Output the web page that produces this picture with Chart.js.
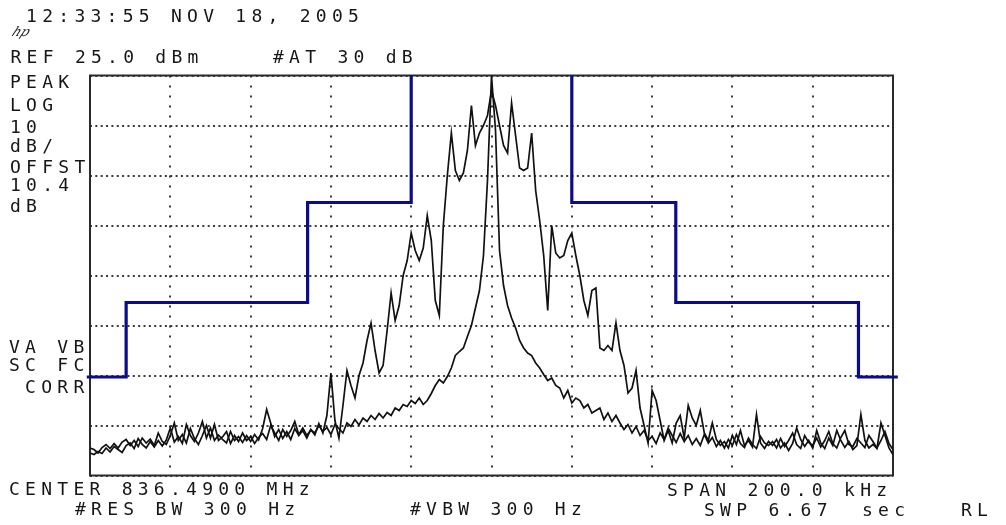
<!DOCTYPE html>
<html>
<head>
<meta charset="utf-8">
<script src="https://cdn.jsdelivr.net/npm/chart.js@4.4.1/dist/chart.umd.min.js"></script>
<style>
  html, body { margin: 0; padding: 0; background: #fff; }
  .screen { position: relative; width: 1006px; height: 525px; overflow: hidden; background: #fff; }
  .screen canvas { position: absolute; left: 0; top: 0; }
  .lbl {
    position: absolute;
    font-family: "DejaVu Sans Mono", monospace;
    font-size: 18px;
    line-height: 18px;
    letter-spacing: 5.26px;
    color: #161616;
    white-space: pre;
  }
  .logo {
    position: absolute;
    left: 13px;
    top: 25px;
    font-family: "DejaVu Serif", serif;
    font-style: italic;
    font-size: 13px;
    line-height: 13px;
    color: #222;
    transform: skewX(-25deg);
  }
</style>
</head>
<body>
<div class="screen">
  <canvas id="sa" width="1006" height="525"></canvas>
  <div class="lbl" style="left:10px;top:6.5px"> 12:33:55 NOV 18, 2005</div>
  <div class="logo">hp</div>
  <div class="lbl" style="left:10.5px;top:48px">REF 25.0 dBm</div>
  <div class="lbl" style="left:273px;top:48px">#AT 30 dB</div>
  <div class="lbl" style="left:10px;top:73px">PEAK</div>
  <div class="lbl" style="left:10px;top:96px">LOG</div>
  <div class="lbl" style="left:10px;top:118px">10</div>
  <div class="lbl" style="left:10px;top:137px">dB/</div>
  <div class="lbl" style="left:10px;top:158px">OFFST</div>
  <div class="lbl" style="left:10px;top:176px">10.4</div>
  <div class="lbl" style="left:10px;top:197px">dB</div>
  <div class="lbl" style="left:9px;top:338px">VA VB</div>
  <div class="lbl" style="left:9px;top:356px">SC FC</div>
  <div class="lbl" style="left:9px;top:378px"> CORR</div>
  <div class="lbl" style="left:9px;top:480px">CENTER 836.4900 MHz</div>
  <div class="lbl" style="left:75px;top:500px">#RES BW 300 Hz</div>
  <div class="lbl" style="left:410px;top:500px">#VBW 300 Hz</div>
  <div class="lbl" style="left:667px;top:481px">SPAN 200.0 kHz</div>
  <div class="lbl" style="left:704px;top:501px">SWP 6.67</div>
  <div class="lbl" style="left:862px;top:501px">sec</div>
  <div class="lbl" style="left:961px;top:501px">RL</div>
</div>
<script>
// offset from 836.4900 MHz, kHz; level in dBm (REF 25 dBm, 10 dB/div)
const startKHz = -100;
const stepKHz = 1;
const xTicks = [-100, -80, -60, -40, -20, 0, 20, 40, 60, 80, 100];
const yTicks = [-55, -45, -35, -25, -15, -5, 5, 15, 25];

// wide modulated trace, one reading per kHz
const wideTrace = [
  -50.5, -50.8, -50.2, -50.6, -49.5, -50.3, -49.2, -49.8, -50.4, -49.0,
  -48.5, -49.6, -47.6, -48.8, -49.5, -48.2, -49.3, -48.0, -49.1, -47.9,
  -45.5, -48.3, -47.2, -48.6, -44.8, -47.0, -48.2, -46.5, -44.2, -47.5,
  -45.5, -48.0, -46.9, -47.8, -48.5, -46.2, -48.0, -47.2, -48.4, -47.0,
  -48.2, -46.8, -47.9, -45.6, -41.8, -44.5, -47.2, -45.8, -47.6, -46.2,
  -47.8, -45.6, -47.0, -46.0, -47.5, -45.8, -46.9, -44.6, -46.5, -43.0,
  -34.5, -44.0, -47.5, -41.0, -34.0, -37.0, -39.5, -35.0, -32.5, -28.0,
  -24.5, -30.0, -34.5, -33.0, -26.0, -18.5, -24.0, -21.0, -15.0, -12.0,
  -6.5, -10.0, -12.0, -9.5, -3.0, -8.0, -20.0, -23.0, -5.0, 5.0,
  13.5, 6.0, 4.0, 5.5, 10.0, 19.0, 11.0, 13.5, 15.0, 17.0,
  22.0, 19.0, 15.0, 11.0, 9.5, 19.5, 13.0, 6.5, 6.0, 6.5,
  13.5, 2.0, -4.0, -11.0, -22.0, -5.0, -10.5, -11.5, -11.0, -8.0,
  -6.5, -11.0, -15.0, -20.0, -23.0, -18.0, -17.5, -29.5, -30.0, -29.0,
  -30.0, -24.5, -30.0, -33.0, -38.5, -37.5, -34.0, -41.5, -45.0, -48.5,
  -38.0, -40.0, -44.0, -48.0, -46.0, -48.5, -44.5, -43.0, -47.5, -41.0,
  -43.5, -45.0, -42.0, -46.5, -48.0, -44.5, -47.8, -49.0, -48.2, -49.5,
  -47.0, -48.8, -46.0, -49.0, -48.0, -49.3, -42.8, -48.5, -49.6, -48.2,
  -49.0, -47.8, -49.5, -48.5, -50.0, -48.6, -45.5, -47.8, -49.2, -48.0,
  -49.5, -46.0, -48.5, -49.6, -47.5, -49.0, -46.0, -48.0, -49.4, -48.2,
  -49.8, -49.0, -42.8, -48.0, -49.5, -48.8, -49.6, -44.5, -47.0, -49.5,
  -50.8
];

// narrow carrier trace, one reading per kHz
const narrowTrace = [
  -49.5, -49.8, -50.5, -49.4, -48.8, -49.6, -48.6, -49.5, -48.3, -47.8,
  -49.0, -48.0, -49.2, -47.5, -48.5, -47.7, -49.0, -46.5, -48.2, -48.8,
  -47.0, -44.5, -48.0, -46.8, -48.5, -45.6, -47.6, -48.8, -47.0, -45.0,
  -47.5, -44.8, -48.0, -47.3, -46.2, -48.6, -47.0, -48.2, -46.5, -48.0,
  -47.2, -48.6, -47.4, -46.6, -47.8, -45.0, -46.5, -48.0, -45.8, -47.2,
  -46.0, -44.2, -46.8, -45.5, -47.0, -45.9, -46.5, -45.0, -46.2, -45.4,
  -46.8, -44.8, -45.6, -46.5, -44.5, -45.2, -43.8, -44.9, -43.5, -44.2,
  -43.0, -43.8, -42.6, -43.5, -42.4, -43.0, -41.5, -42.0, -40.8, -41.2,
  -40.0, -40.6, -39.5, -40.8, -40.0, -38.6, -37.0, -35.8, -36.5, -35.2,
  -33.5, -31.0, -30.2, -29.5, -27.2, -25.0, -21.5, -18.0, -11.0, 4.0,
  25.0, 14.0, -10.0, -17.0, -21.0, -23.5, -25.5, -28.0, -29.5, -30.5,
  -31.0, -32.5, -33.5, -34.8, -36.0, -35.5, -37.0, -37.5, -39.5, -38.0,
  -40.5, -39.5, -40.0, -41.5, -40.8, -42.5, -42.0, -41.5, -43.8, -42.5,
  -44.2, -43.0, -44.5, -45.8, -44.8, -46.5, -45.2, -47.0, -46.0, -48.0,
  -47.2, -48.6, -46.5, -47.8, -45.5, -47.0, -48.4, -46.6, -48.2, -47.0,
  -48.8, -47.6, -49.0, -46.8, -48.5, -47.4, -49.2, -48.0, -49.5, -47.8,
  -49.0, -46.8, -48.6, -49.4, -47.5, -48.8, -49.6, -47.2, -48.5, -49.0,
  -48.2, -49.5, -47.6, -49.2, -48.0, -46.5, -48.8, -49.6, -47.0, -48.4,
  -49.0, -47.5, -49.3, -48.0, -46.2, -48.6, -49.5, -47.4, -46.0, -48.8,
  -49.2, -47.6, -48.5, -49.4, -47.0, -48.2, -49.5, -48.0, -46.2, -48.6,
  -49.8
];

// limit mask corners
const maskLeftFreq = [-100.8, -91.0, -91.0, -45.8, -45.8, -20.0, -20.0];
const maskLeftLevel = [-35.3, -35.3, -20.4, -20.4, -0.4, -0.4, 25.0];
const maskRightFreq = [20.0, 20.0, 45.9, 45.9, 91.4, 91.4, 101.2];
const maskRightLevel = [25.0, -0.4, -0.4, -20.4, -20.4, -35.3, -35.3];

const toPoints = (values) => values.map((y, i) => ({ x: startKHz + i * stepKHz, y }));
const zipPoints = (xs, ys) => xs.map((x, i) => ({ x, y: ys[i] }));

const traceStyle = {
  borderColor: "#111",
  borderWidth: 1.7,
  pointRadius: 0,
  tension: 0,
  fill: false
};

const maskStyle = {
  borderColor: "#0c0c8a",
  borderWidth: 3.2,
  pointRadius: 0,
  tension: 0,
  fill: false,
  clip: false,
  borderJoinStyle: "miter",
  borderCapStyle: "butt"
};

const framePlugin = {
  id: "frame",
  beforeDatasetsDraw(chart) {
    const { ctx, chartArea: a } = chart;
    ctx.save();
    ctx.strokeStyle = "#2a2a2a";
    ctx.lineWidth = 2;
    ctx.strokeRect(a.left, a.top, a.right - a.left, a.bottom - a.top);
    ctx.restore();
  }
};

new Chart(document.getElementById("sa"), {
  type: "line",
  data: {
    datasets: [
      { ...traceStyle, data: toPoints(narrowTrace) },
      { ...traceStyle, data: toPoints(wideTrace) },
      { ...maskStyle, data: zipPoints(maskLeftFreq, maskLeftLevel) },
      { ...maskStyle, data: zipPoints(maskRightFreq, maskRightLevel) }
    ]
  },
  options: {
    responsive: false,
    animation: false,
    events: [],
    layout: { padding: { left: 90, right: 113, top: 75.5, bottom: 49.5 } },
    plugins: { legend: { display: false }, tooltip: { enabled: false } },
    scales: {
      x: {
        type: "linear",
        min: xTicks[0],
        max: xTicks[xTicks.length - 1],
        afterBuildTicks: (scale) => { scale.ticks = xTicks.map((value) => ({ value })); },
        ticks: { display: false },
        grid: { color: "#3a3a3a", lineWidth: 2, drawTicks: false },
        border: { display: false, dash: [2, 8] }
      },
      y: {
        type: "linear",
        min: yTicks[0],
        max: yTicks[yTicks.length - 1],
        afterBuildTicks: (scale) => { scale.ticks = yTicks.map((value) => ({ value })); },
        ticks: { display: false },
        grid: { color: "#3a3a3a", lineWidth: 2, drawTicks: false },
        border: { display: false, dash: [2, 3.35] }
      }
    }
  },
  plugins: [framePlugin]
});
</script>
</body>
</html>
